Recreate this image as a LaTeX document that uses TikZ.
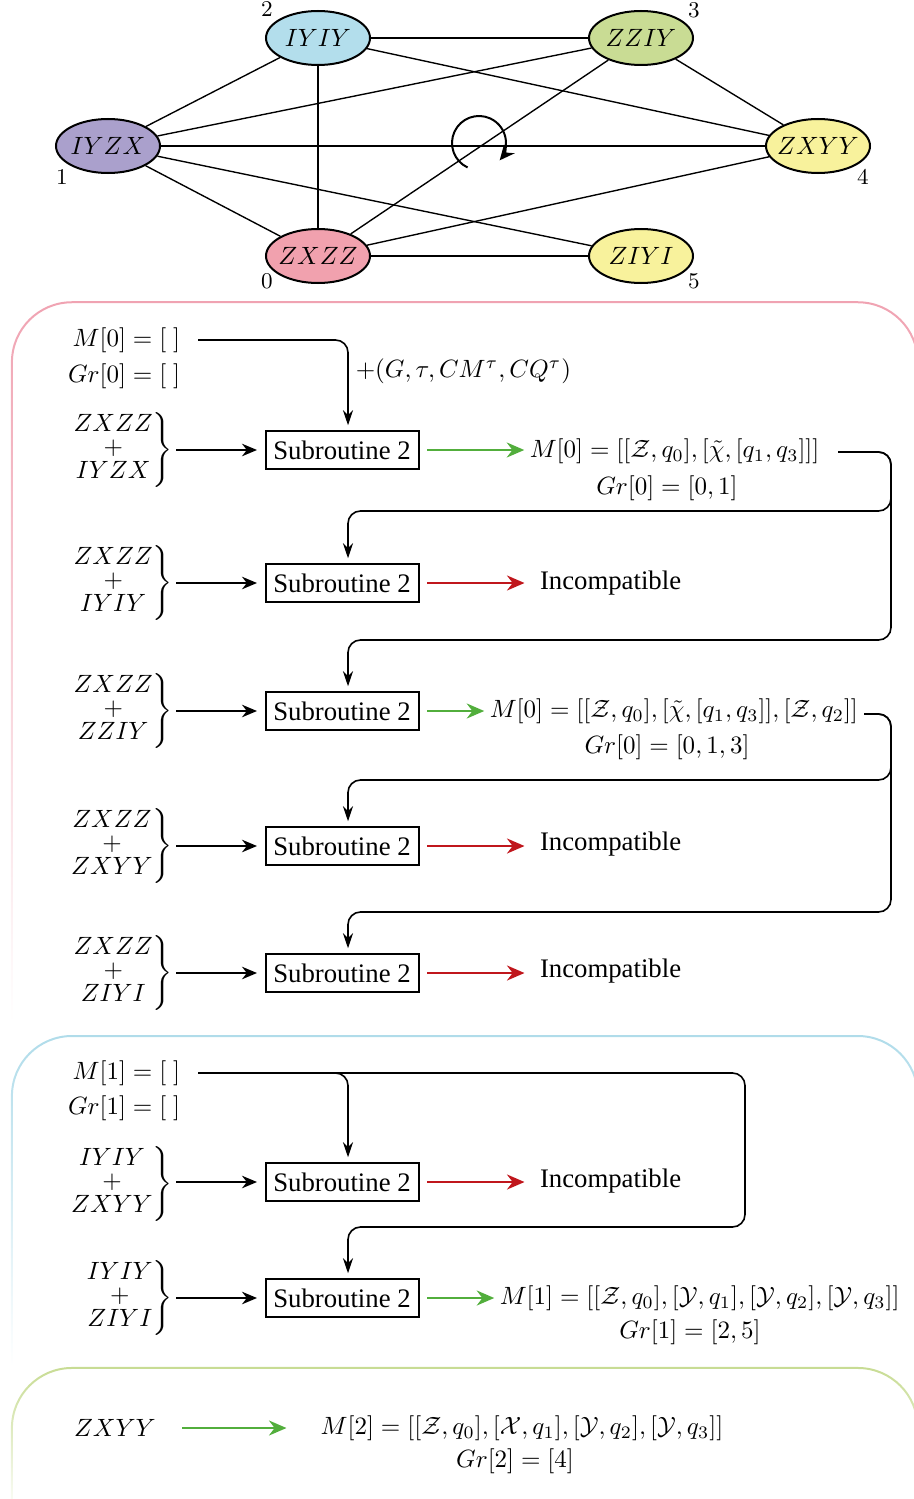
\documentclass[tikz,border=0pt]{standalone}
\usepackage{fontspec}
\setmainfont{Liberation Serif}
\usetikzlibrary{arrows.meta,shapes.geometric,fadings}
\definecolor{cblue}{HTML}{B3DEEC}
\definecolor{cgreen}{HTML}{C9DC94}
\definecolor{cpurple}{HTML}{AAA0CC}
\definecolor{cyellow}{HTML}{F8F29C}
\definecolor{cpink}{HTML}{F1A1AE}
\definecolor{bpink}{HTML}{F0A3B2}
\definecolor{bblue}{HTML}{B0DCEA}
\definecolor{bgreen}{HTML}{C8DC94}
\definecolor{agreen}{HTML}{52AE3C}
\definecolor{ared}{HTML}{C0161C}
\tikzfading[name=panelfade, top color=transparent!0, middle color=transparent!0, bottom color=transparent!100]
\newcommand\pairstack[2]{$\renewcommand\arraystretch{0.7}\left.\begin{array}{@{}c@{}}#1\\+\\#2\end{array}\right\}$}
\newcommand\glab[1]{\makebox[0pt]{$#1$}}
\begin{document}
\begin{tikzpicture}[x=0.4pt,y=-0.4pt,
  font=\fontsize{9.6pt}{13pt}\selectfont,
  gnode/.style={ellipse, draw, line width=0.8pt, minimum width=41.6pt, minimum height=21.6pt, inner sep=0pt},
  gedge/.style={line width=0.55pt},
  numlab/.style={font=\fontsize{9.4pt}{11pt}\selectfont, inner sep=0pt},
  subbox/.style={draw, line width=0.8pt, minimum width=61.2pt, minimum height=15pt, inner sep=1pt, font=\fontsize{10.7pt}{13pt}\selectfont},
  pairs/.style={anchor=east, inner sep=1pt},
  txt/.style={inner sep=0.5pt},
  bad/.style={inner sep=1pt, anchor=west, font=\fontsize{10.7pt}{13pt}\selectfont},
  inarr/.style={line width=0.8pt, -{Stealth[length=6pt,width=5pt]}, shorten >=3pt},
  okarr/.style={agreen, line width=1pt, -{Stealth[length=7pt,width=6pt]}, shorten <=3pt},
  badarr/.style={ared, line width=1pt, -{Stealth[length=7pt,width=6pt]}, shorten <=3pt, shorten >=5pt},
  flow/.style={line width=0.65pt, rounded corners=5pt, -{Stealth[length=6pt,width=4pt]}, shorten >=2pt},
  panel/.style={line width=0.8pt, rounded corners=24pt, path fading=panelfade}]
\useasboundingbox (0,0) rectangle (913,1499);

% ---------------- graph ----------------
\node[gnode, fill=cblue]   (n2) at (318,38)  {\glab{IYIY}};
\node[gnode, fill=cgreen]  (n3) at (641,38)  {\glab{ZZIY}};
\node[gnode, fill=cpurple] (n1) at (108,146) {\glab{IYZX}};
\node[gnode, fill=cyellow] (n4) at (818,146) {\glab{ZXYY}};
\node[gnode, fill=cpink]   (n0) at (318,256) {\glab{ZXZZ}};
\node[gnode, fill=cyellow] (n5) at (641,256) {\glab{ZIYI}};
\node[numlab] (l2) at (267,9)   {$2$};
\node[numlab] (l3) at (694,10)  {$3$};
\node[numlab] (l1) at (62,177)  {$1$};
\node[numlab] (l4) at (863,177) {$4$};
\node[numlab] (l0) at (267,281) {$0$};
\node[numlab] (l5) at (694,281) {$5$};
\draw[gedge] (n2) -- (n3);
\draw[gedge] (n2) -- (n1);
\draw[gedge] (n2) -- (n0);
\draw[gedge] (n2) -- (n4);
\draw[gedge] (n3) -- (n1);
\draw[gedge] (n3) -- (n0);
\draw[gedge] (n3) -- (n4);
\draw[gedge] (n1) -- (n4);
\draw[gedge] (n1) -- (n0);
\draw[gedge] (n1) -- (n5);
\draw[gedge] (n0) -- (n4);
\draw[gedge] (n0) -- (n5);
\coordinate (rc) at (479,143);
\draw[line width=0.8pt, -{Stealth[length=6pt,width=5.5pt]}] ([shift={(245:10.8pt)}]rc) arc[start angle=245, end angle=-40, radius=10.8pt];

% ---------------- panels ----------------
\draw[panel, bpink]  (12,1020) -- (12,302)  -- (918,302)  -- (918,1020);
\draw[panel, bblue]  (12,1365) -- (12,1036) -- (918,1036) -- (918,1365);
\draw[panel, bgreen] (12,1515) -- (12,1368) -- (918,1368) -- (918,1515);

% ---------------- panel 1 ----------------
\node[txt, anchor=east] (m0) at (182,340) {$M[0]=[\;]$};
\node[txt, anchor=east] (gr0) at (182,376) {$Gr[0]=[\;]$};
\coordinate (j0) at (198,340);
\node[txt, anchor=west] (plus) at (354,371) {$+(G,\tau,CM^{\tau},CQ^{\tau})$};

\node[pairs] (p1) at (176,450) {\pairstack{ZXZZ}{IYZX}};
\node[subbox] (s1) at (342,450) {Subroutine 2};
\node[txt, anchor=west] (r1) at (528,451) {$M[0]=[[\mathcal{Z},q_0],[\tilde{\chi},[q_1,q_3]]]$};
\node[txt] (g1) at (667,488) {$Gr[0]=[0,1]$};

\node[pairs] (p2) at (176,583) {\pairstack{ZXZZ}{IYIY}};
\node[subbox] (s2) at (342,583) {Subroutine 2};
\node[bad] (i2) at (537,583) {Incompatible};

\node[pairs] (p3) at (176,711) {\pairstack{ZXZZ}{ZZIY}};
\node[subbox] (s3) at (342,711) {Subroutine 2};
\node[txt, anchor=west] (r3) at (488,711) {$M[0]=[[\mathcal{Z},q_0],[\tilde{\chi},[q_1,q_3]],[\mathcal{Z},q_2]]$};
\node[txt] (g3) at (667,747) {$Gr[0]=[0,1,3]$};

\node[pairs] (p4) at (176,846) {\pairstack{ZXZZ}{ZXYY}};
\node[subbox] (s4) at (342,846) {Subroutine 2};
\node[bad] (i4) at (537,844) {Incompatible};

\node[pairs] (p5) at (176,973) {\pairstack{ZXZZ}{ZIYI}};
\node[subbox] (s5) at (342,973) {Subroutine 2};
\node[bad] (i5) at (537,971) {Incompatible};

\draw[flow] (j0) -- (348,340) -- ([xshift=2.4pt]s1.north);
\foreach \p/\s in {p1/s1,p2/s2,p3/s3,p4/s4,p5/s5} \draw[inarr] (\p.east |- \s.west) -- (\s.west);
\draw[okarr, shorten >=1.5pt] (s1.east) -- (s1.east -| r1.west);
\draw[badarr] (s2.east) -- (s2.east -| i2.west);
\draw[okarr, shorten >=1.5pt] (s3.east) -- (s3.east -| r3.west);
\draw[badarr] (s4.east) -- (s4.east -| i4.west);
\draw[badarr] (s5.east) -- (s5.east -| i5.west);

\coordinate (j1) at (838,452);
\draw[flow] (j1) -- (891,452) -- (891,511) -- (348,511) -- ([xshift=2.4pt]s2.north);
\draw[flow] (j1) -- (891,452) -- (891,640) -- (348,640) -- ([xshift=2.4pt]s3.north);
\coordinate (j3) at (864,714);
\draw[flow] (j3) -- (891,714) -- (891,780) -- (348,780) -- ([xshift=2.4pt]s4.north);
\draw[flow] (j3) -- (891,714) -- (891,912) -- (348,912) -- ([xshift=2.4pt]s5.north);

% ---------------- panel 2 ----------------
\node[txt, anchor=east] (m1) at (182,1073) {$M[1]=[\;]$};
\node[txt, anchor=east] (gr1) at (182,1108) {$Gr[1]=[\;]$};
\coordinate (j5) at (198,1073);

\node[pairs] (p6) at (176,1184) {\pairstack{IYIY}{ZXYY}};
\node[subbox] (s6) at (342,1182) {Subroutine 2};
\node[bad] (i6) at (537,1181) {Incompatible};

\node[pairs] (p7) at (176,1298) {\pairstack{IYIY}{ZIYI}};
\node[subbox] (s7) at (342,1298) {Subroutine 2};
\node[txt, anchor=west] (r7) at (498,1298) {$M[1]=[[\mathcal{Z},q_0],[\mathcal{Y},q_1],[\mathcal{Y},q_2],[\mathcal{Y},q_3]]$};
\node[txt] (g7) at (690,1332) {$Gr[1]=[2,5]$};

\draw[flow] (j5) -- (348,1073) -- ([xshift=2.4pt]s6.north);
\draw[flow] (j5) -- (745,1073) -- (745,1227) -- (348,1227) -- ([xshift=2.4pt]s7.north);
\draw[inarr] (p6.east |- s6.west) -- (s6.west);
\draw[inarr] (p7.east |- s7.west) -- (s7.west);
\draw[badarr] (s6.east) -- (s6.east -| i6.west);
\draw[okarr, shorten >=1.5pt] (s7.east) -- (s7.east -| r7.west);

% ---------------- panel 3 ----------------
\node[txt] (z8) at (115,1428) {$ZXYY$};
\node[txt] (r8) at (522,1428) {$M[2]=[[\mathcal{Z},q_0],[\mathcal{X},q_1],[\mathcal{Y},q_2],[\mathcal{Y},q_3]]$};
\node[txt] (g8) at (515,1461) {$Gr[2]=[4]$};
\draw[okarr, shorten <=9.8pt, shorten >=13pt] (z8.east) -- (z8.east -| r8.west);
\end{tikzpicture}
\end{document}
